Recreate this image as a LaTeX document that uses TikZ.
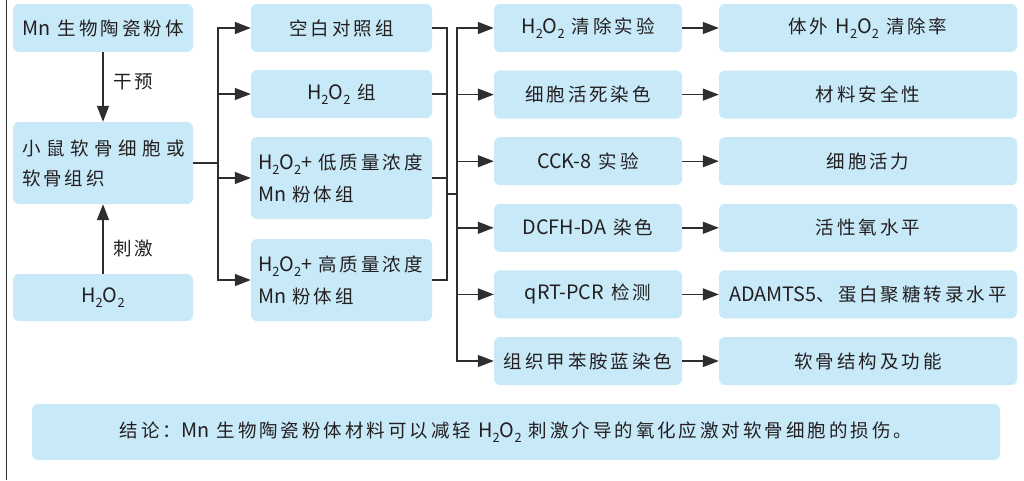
\documentclass[tikz,border=0pt]{standalone}
\usepackage{fontspec}
\setmainfont[LetterSpace=16]{Noto Sans CJK SC}
\newfontfamily\latfont[Scale=1.07]{Noto Sans CJK SC}
\usetikzlibrary{arrows.meta}
\definecolor{boxblue}{HTML}{C8E9F8}
\definecolor{ink}{HTML}{231F20}
\definecolor{linec}{HTML}{2E2E2E}
\newcommand\lat[1]{{\latfont #1}}
\newcommand\subtwo{\raisebox{-0.28em}{\fontsize{12}{12}\selectfont 2}}
\newcommand\HO{\lat{H\subtwo O\subtwo}}
\begin{document}
\begin{tikzpicture}[x=1pt,y=-1pt,
  box/.style={fill=boxblue, rounded corners=6pt, inner sep=0pt, text=ink, font=\fontsize{18.5}{30}\selectfont},
  colA/.style={box, minimum width=180pt},
  colB/.style={box, minimum width=181pt},
  colC/.style={box, minimum width=188pt, minimum height=48pt},
  colD/.style={box, minimum width=298pt, minimum height=48pt},
  lab/.style={text=ink, font=\fontsize{18.5}{22}\selectfont, inner sep=0pt, anchor=west},
  ln/.style={draw=linec, line width=1.4pt},
  arr/.style={ln, -{Triangle[length=16pt,width=12pt]}},
]
\useasboundingbox (0,0) rectangle (1024,480);
\draw[linec, line width=1.4pt] (6.5,0) -- (6.5,480);

% column 1
\node[colA, minimum height=48pt] (mn) at (103,28) {\lat{Mn} 生物陶瓷粉体};
\node[colA, minimum height=82pt, text width=162pt, align=left] (ms) at (103,163) {\mbox{\addfontfeature{LetterSpace=30}小鼠软骨细胞或}\\软骨组织};
\node[colA, minimum height=47pt] (h2) at (103,297.5) {\HO};
\node[lab] (l1) at (113,82) {干预};
\node[lab] (l2) at (113,248) {刺激};

% column 2
\node[colB, minimum height=48pt] (g1) at (341.5,28) {空白对照组};
\node[colB, minimum height=48pt] (g2) at (341.5,94) {\HO\ 组};
\node[colB, minimum height=82pt, text width=167pt, align=left, font=\fontsize{18.5}{32}\selectfont] (g3) at (341.5,178) {\mbox{\HO\lat{+} 低质量浓度}\\\mbox{\lat{Mn} 粉体组}};
\node[colB, minimum height=82pt, text width=167pt, align=left, font=\fontsize{18.5}{32}\selectfont] (g4) at (341.5,280) {\mbox{\HO\lat{+} 高质量浓度}\\\mbox{\lat{Mn} 粉体组}};

% column 3
\node[colC] (e1) at (588,28) {\HO\ 清除实验};
\node[colC] (e2) at (588,94.6) {细胞活死染色};
\node[colC] (e3) at (588,161.2) {\lat{CCK-8} 实验};
\node[colC] (e4) at (588,227.8) {\lat{DCFH-DA} 染色};
\node[colC] (e5) at (588,294.4) {\lat{qRT-PCR} 检测};
\node[colC] (e6) at (588,361) {组织甲苯胺蓝染色};

% column 4
\node[colD] (r1) at (868,28) {体外 \HO\ 清除率};
\node[colD] (r2) at (868,94.6) {材料安全性};
\node[colD] (r3) at (868,161.2) {细胞活力};
\node[colD] (r4) at (868,227.8) {活性氧水平};
\node[colD] (r5) at (868,294.4) {\lat{ADAMTS5}、蛋白聚糖转录水平};
\node[colD] (r6) at (868,361) {软骨结构及功能};

% conclusion
\node[box, minimum width=968pt, minimum height=56pt] (con) at (516,432) {结论：\lat{Mn} 生物陶瓷粉体材料可以减轻 \HO\ 刺激介导的氧化应激对软骨细胞的损伤。};

% connectors
\draw[arr] (mn) -- (ms);
\draw[arr] (h2) -- (ms);
\coordinate (b1) at (218,163);
\draw[ln] (ms.east) -- (b1);
\foreach \g in {g1,g2,g3,g4} \draw[arr] (b1) |- (\g.west);
\coordinate (b2) at (447,194);
\coordinate (b3) at (457,194);
\foreach \g in {g1,g2,g3,g4} \draw[ln] (\g.east) -| (b2);
\draw[ln] (b2) -- (b3);
\foreach \e in {e1,e2,e3,e4,e5,e6} \draw[arr] (b3) |- (\e.west);
\foreach \i in {1,...,6} \draw[arr] (e\i.east) -- (r\i.west);
\end{tikzpicture}
\end{document}
